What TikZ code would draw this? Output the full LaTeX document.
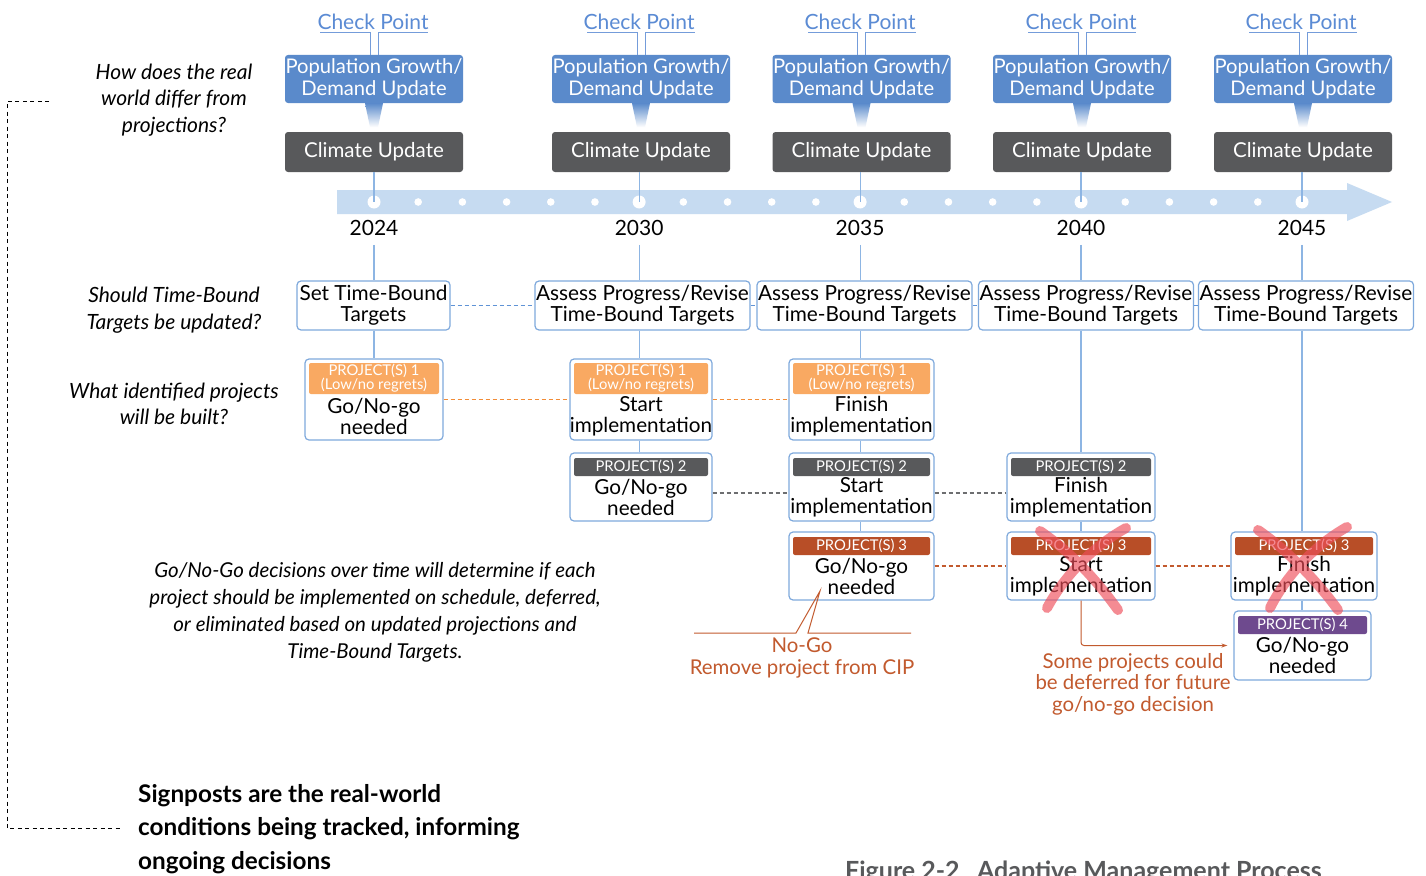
\documentclass[tikz,border=0pt]{standalone}
\usepackage{fontspec}
\setmainfont{Lato}
\usepackage{xcolor}
\usetikzlibrary{arrows.meta,positioning,calc}
\definecolor{cpblue}{HTML}{5B8BD4}
\definecolor{popblue}{HTML}{5A8ACB}
\definecolor{climgray}{HTML}{58595B}
\definecolor{tlblue}{HTML}{C6DBF1}
\definecolor{lineblue}{HTML}{8DB5E3}
\definecolor{boxblue}{HTML}{7FA9DC}
\definecolor{prjorange}{HTML}{F9A962}
\definecolor{prjgray}{HTML}{58595B}
\definecolor{prjred}{HTML}{B84E27}
\definecolor{prjpurple}{HTML}{6E4A8E}
\definecolor{rust}{HTML}{C25A2E}
\definecolor{dashorange}{HTML}{F28C36}
\definecolor{dashblue}{HTML}{5F93D6}
\definecolor{dashgray}{HTML}{6D6E70}
\definecolor{xred}{HTML}{EF4E5A}
\newcommand{\fsz}[2]{\fontsize{#1}{#2}\selectfont}

\begin{document}
\begin{tikzpicture}[x=1pt, y=-1pt,
    every node/.style={inner sep=0pt},
    cptext/.style={text=cpblue, font=\fsz{21}{22}},
    cpline/.style={draw=cpblue!85, line width=1pt},
    popbox/.style={fill=popblue, rounded corners=3pt, text=white, align=center,
        minimum width=178, minimum height=48, font=\fsz{20.2}{22}},
    climbox/.style={fill=climgray, rounded corners=3pt, text=white,
        minimum width=178, minimum height=40, font=\fsz{20.5}{22}},
    yearlbl/.style={font=\fsz{21}{22}},
    vline/.style={draw=lineblue, line width=1.2pt},
    tgtbox/.style={draw=boxblue, line width=1.2pt, rounded corners=4pt, fill=white,
        align=center, minimum height=49, font=\fsz{20.8}{21}},
    projbox/.style={draw=boxblue, line width=1.2pt, rounded corners=4pt, fill=white},
    tagbar/.style={rounded corners=2pt, text=white, align=center, font=\fsz{14.8}{14}},
    bodytxt/.style={align=center, font=\fsz{20.7}{21}},
    question/.style={align=center, font=\itshape\fsz{21}{26.5}},
    dashline/.style={line width=1.4pt, dash pattern=on 4pt off 3pt},
    rusttxt/.style={text=rust, align=center, font=\fsz{20.4}{21.5}},
    xmark/.style={draw=xred, opacity=0.65, line width=10pt, line cap=round}
]
\fill[white] (0,0) rectangle (1426,875);
\useasboundingbox (0,0) rectangle (1426,875);

% Timeline band and dots
\fill[tlblue] (337,190) -- (1347,190) -- (1347,183) -- (1392,202)
    -- (1347,221) -- (1347,214) -- (337,214) -- cycle;
\foreach \k in {0,...,21}
    \fill[white] ({374+44.19*\k},202) circle (3.8pt);
\foreach \yr/\k in {2024/0,2030/6,2035/11,2040/16,2045/21} {
    \coordinate (t\yr) at ({374+44.19*\k},202);
    \fill[white] (t\yr) circle (6.5pt);
    \node[yearlbl] (yr\yr) at ({374+44.19*\k},228) {\yr};
}

% Check points, population and climate updates
\foreach \yr/\bx/\cx in {2024/374/373,2030/641/639,2035/861.5/860,2040/1082/1081,2045/1303/1301} {
    \node[cptext] (cp\yr) at (\cx,22) {Check Point};
    \node[popbox] (pop\yr) at (\bx,79) {Population Growth/\\Demand Update};
    \node[climbox] (clim\yr) at (\bx,152) {Climate Update};
    \draw[cpline] ([xshift=-4pt]pop\yr.north) -- ++(0,-22) -- ++(-50,0);
    \draw[cpline] ([xshift=4pt]pop\yr.north) -- ++(0,-22) -- ++(50,0);
    \shade[top color=popblue, bottom color=white]
        ([xshift=-9pt]pop\yr.south) -- ([xshift=9pt]pop\yr.south)
        -- ++(-5,24) -- ++(-8,0) -- cycle;
    \draw[vline] (clim\yr.south -| t\yr) -- (t\yr);
}

% Questions on the left
\node[question] (q1) at (174,100) {How does the real\\world differ from\\projections?};
\node[question] (q2) at (174,310) {Should Time-Bound\\Targets be updated?};
\node[question] (q3) at (174,404) {What identified projects\\will be built?};

% Time-Bound Targets
\node[tgtbox, minimum width=153] (tgt2024) at (373.5,305.5) {Set Time-Bound\\Targets};
\foreach \yr/\cx in {2030/642.5,2035/864.5,2040/1086,2045/1306}
    \node[tgtbox, minimum width=215] (tgt\yr) at (\cx,305.5) {Assess Progress/Revise\\Time-Bound Targets};

% Vertical links
\foreach \yr in {2024,2030,2035,2040,2045}
    \draw[vline, shorten <=9pt] (yr\yr.south) -- (yr\yr.south |- tgt\yr.north);

% Project(s) 1
\foreach \nm/\cx/\w/\body in {p1a/374/138/{Go/No-go\\needed},
        p1b/641/142/{Start\\implementation}, p1c/861.5/145/{Finish\\implementation}} {
    \node[projbox, minimum width=\w, minimum height=81] (\nm) at (\cx,399.5) {};
    \node[tagbar, fill=prjorange, minimum width=\w-8, minimum height=31] (\nm tag) at (\cx,378.5) {PROJECT(S) 1\\(Low/no regrets)};
    \node[bodytxt] (\nm body) at (\cx,416) {\body};
}

% Project(s) 2
\foreach \nm/\cx/\w/\body in {p2a/641/142/{Go/No-go\\needed},
        p2b/861.5/145/{Start\\implementation}, p2c/1081/148/{Finish\\implementation}} {
    \node[projbox, minimum width=\w, minimum height=68] (\nm) at (\cx,487) {};
    \node[tagbar, fill=prjgray, minimum width=\w-8, minimum height=18] (\nm tag) at (\cx,467) {PROJECT(S) 2};
    \node[bodytxt] (\nm body) at (\cx,497.5) {\body};
}

% Project(s) 3
\foreach \nm/\cx/\w/\body in {p3a/861.5/145/{Go/No-go\\needed},
        p3b/1081/148/{Start\\implementation}, p3c/1304/146/{Finish\\implementation}} {
    \node[projbox, minimum width=\w, minimum height=68] (\nm) at (\cx,566) {};
    \node[tagbar, fill=prjred, minimum width=\w-8, minimum height=18] (\nm tag) at (\cx,546) {PROJECT(S) 3};
    \node[bodytxt] (\nm body) at (\cx,576.5) {\body};
}

% Project(s) 4
\node[projbox, minimum width=137, minimum height=69] (p4) at (1302.5,645.5) {};
\node[tagbar, fill=prjpurple, minimum width=129, minimum height=18] (p4tag) at (1302.5,625) {PROJECT(S) 4};
\node[bodytxt] (p4body) at (1302.5,655) {Go/No-go\\needed};

% Links between rows
\draw[vline] (tgt2024.south -| t2024) -- (p1a.north -| t2024);
\draw[vline] (tgt2030.south -| t2030) -- (p1b.north -| t2030);
\draw[vline] (p1b.south -| t2030) -- (p2a.north -| t2030);
\draw[vline] (tgt2035.south -| t2035) -- (p1c.north -| t2035);
\draw[vline] (p1c.south -| t2035) -- (p2b.north -| t2035);
\draw[vline] (p2b.south -| t2035) -- (p3a.north -| t2035);
\draw[vline] (tgt2040.south -| t2040) -- (p2c.north -| t2040);
\draw[vline] (p2c.south -| t2040) -- (p3b.north -| t2040);
\draw[vline] (tgt2045.south -| t2045) -- (p3c.north -| t2045);
\draw[vline] (p3c.south -| t2045) -- (p4.north -| t2045);

% Dashed links along each row
\draw[dashline, draw=dashblue] (tgt2024.east) -- (tgt2030.west);
\draw[dashline, draw=dashblue] (tgt2030.east) -- (tgt2035.west);
\draw[dashline, draw=dashblue] (tgt2035.east) -- (tgt2040.west);
\draw[dashline, draw=dashblue] (tgt2040.east) -- (tgt2045.west);
\draw[dashline, draw=dashorange] (p1a.east) -- (p1b.west);
\draw[dashline, draw=dashorange] (p1b.east) -- (p1c.west);
\draw[dashline, draw=dashgray] ([yshift=-6pt]p2a.east) -- ([yshift=-6pt]p2b.west);
\draw[dashline, draw=dashgray] ([yshift=-6pt]p2b.east) -- ([yshift=-6pt]p2c.west);
\draw[dashline, draw=rust] (p3a.east) -- (p3b.west);
\draw[dashline, draw=rust] (p3b.east) -- (p3c.west);

% No-Go callout
\coordinate (nogotip) at (820,591);
\draw[rust, line width=1pt] (694,633) -- (796,633) -- (nogotip) -- (808,633) -- (911,633);
\node[rusttxt] (nogo) at (802,658) {No-Go\\Remove project from CIP};

% Deferred projects
\draw[rust, line width=1pt, rounded corners=3pt, -{Stealth[length=6pt,width=4pt]}, shorten >=6pt]
    (p3b.south) |- (p4.west);
\node[rusttxt] (defer) at (1133,684) {Some projects could\\be deferred for future\\go/no-go decision};

% Crossed out projects
\draw[xmark] (1040,531) .. controls (1075,555) and (1100,585) .. (1118,610)
    (1126,528) .. controls (1090,548) and (1062,580) .. (1047,608);
\draw[xmark] (1258,530) .. controls (1290,552) and (1320,585) .. (1338,610)
    (1347,527) .. controls (1310,548) and (1284,580) .. (1270,608);

% Explanatory notes
\node[question, font=\itshape\fsz{20.5}{27}] (gonogo) at (375,612)
    {Go/No-Go decisions over time will determine if each\\project should be implemented on schedule, deferred,\\or eliminated based on updated projections and\\Time-Bound Targets.};
\draw[line width=0.9pt, dash pattern=on 4pt off 3.5pt] (49,101) -- (7,101) -- (7,828) -- (122,828);
\node[anchor=west, align=left, font=\bfseries\fsz{24.3}{33.5}] (sign) at (138,829)
    {Signposts are the real-world\\conditions being tracked, informing\\ongoing decisions};
\node[anchor=base west, text=climgray, font=\bfseries\fsz{25}{25}] (capt) at (845,879)
    {Figure 2-2\hspace{0.45em} Adaptive Management Process};
\end{tikzpicture}
\end{document}
